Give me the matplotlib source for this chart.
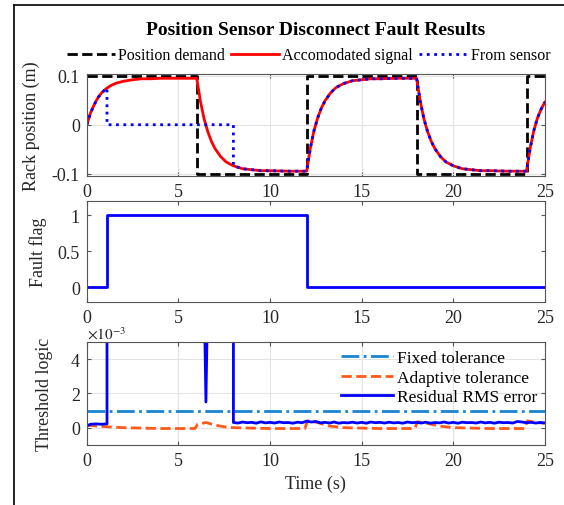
import numpy as np
import matplotlib
matplotlib.use("Agg")
import matplotlib.pyplot as plt
from matplotlib.lines import Line2D

plt.rcParams['font.family'] = ['Liberation Serif', 'DejaVu Serif']
plt.rcParams['mathtext.fontset'] = 'stix'

# --- data ---
# position demand (square wave)
demand_t = [0, 6, 6, 12, 12, 18, 18, 24, 24, 25]
demand_y = [0.1, 0.1, -0.1, -0.1, 0.1, 0.1, -0.1, -0.1, 0.1, 0.1]

# accomodated signal (red)
acc_t = [0, 0.2, 0.4, 0.6, 0.8, 1.0, 1.1, 1.3, 1.6, 2.0, 2.5, 3.0, 3.5, 4.0, 5.0, 6.0,
         6.2, 6.4, 6.6, 6.8, 7.0, 7.3, 7.6, 8.0, 8.5, 9.0, 9.5, 10.0, 11.0, 12.0,
         12.2, 12.4, 12.6, 12.8, 13.0, 13.3, 13.6, 14.0, 14.5, 15.0, 15.5, 16.0, 17.0, 18.0,
         18.2, 18.4, 18.6, 18.8, 19.0, 19.3, 19.6, 20.0, 20.5, 21.0, 21.5, 22.0, 23.0, 24.0,
         24.2, 24.4, 24.6, 24.8, 25.0]
acc_y = [0, 0.024, 0.041, 0.055, 0.065, 0.072, 0.075, 0.080, 0.085, 0.089, 0.092, 0.094, 0.094, 0.095, 0.095, 0.095,
         0.048, 0.012, -0.014, -0.034, -0.049, -0.065, -0.076, -0.084, -0.090, -0.092, -0.094, -0.094, -0.095, -0.095,
         -0.048, -0.012, 0.014, 0.034, 0.049, 0.065, 0.076, 0.084, 0.090, 0.092, 0.094, 0.094, 0.095, 0.095,
         0.048, 0.012, -0.014, -0.034, -0.049, -0.065, -0.076, -0.084, -0.090, -0.092, -0.094, -0.094, -0.095, -0.095,
         -0.048, -0.012, 0.014, 0.032, 0.046]

# from sensor (blue dotted): drops to 0 at 1.1 s, reconnects at 8 s
sens_t = [0, 0.2, 0.4, 0.6, 0.8, 1.0, 1.1, 1.1, 8.0,
          8.0, 8.5, 9.0, 9.5, 10.0, 11.0, 12.0,
          12.2, 12.4, 12.6, 12.8, 13.0, 13.3, 13.6, 14.0, 14.5, 15.0, 15.5, 16.0, 17.0, 18.0,
          18.2, 18.4, 18.6, 18.8, 19.0, 19.3, 19.6, 20.0, 20.5, 21.0, 21.5, 22.0, 23.0, 24.0,
          24.2, 24.4, 24.6, 24.8, 25.0]
sens_y = [0, 0.024, 0.041, 0.055, 0.065, 0.072, 0.075, 0, 0,
          -0.084, -0.090, -0.092, -0.094, -0.094, -0.095, -0.095,
          -0.048, -0.012, 0.014, 0.034, 0.049, 0.065, 0.076, 0.084, 0.090, 0.092, 0.094, 0.094, 0.095, 0.095,
          0.048, 0.012, -0.014, -0.034, -0.049, -0.065, -0.076, -0.084, -0.090, -0.092, -0.094, -0.094, -0.095, -0.095,
          -0.048, -0.012, 0.014, 0.032, 0.046]

# fault flag
flag_t = [0, 1.1, 1.1, 12, 12, 25]
flag_y = [0, 0, 1, 1, 0, 0]

# threshold logic (x1e-3)
fixed_t = [0, 25]
fixed_y = [1.0, 1.0]

adapt_t = [0, 0.5, 1.1, 2, 4, 5.9, 6.05, 6.5, 7.0, 7.5, 8, 10, 11.9, 12.05, 12.6, 13.2, 14, 16,
           17.9, 18.05, 18.6, 19.2, 20, 22, 23.9, 24.05, 24.6, 25]
adapt_y = [0.15, 0.1, 0.05, 0.0, -0.05, -0.05, 0.2, 0.3, 0.15, 0.05, 0.0, -0.05, -0.05, 0.4, 0.3, 0.1, 0.0, -0.05,
           -0.05, 0.35, 0.25, 0.1, 0.0, -0.05, -0.05, 0.4, 0.3, 0.25]

res_t = [0, 0.2, 0.5, 0.8, 1.1, 1.1, 6.4, 6.5, 6.6, 8.0, 8.0,
         8.25, 8.5, 8.75, 9.0, 9.25, 9.5, 9.75, 10.0, 10.25, 10.5, 10.75, 11.0, 11.25, 11.5, 11.75, 12.0,
         12.25, 12.5, 12.75, 13.0, 13.25, 13.5, 13.75, 14.0, 14.25, 14.5, 14.75, 15.0, 15.25, 15.5, 15.75, 16.0,
         16.25, 16.5, 16.75, 17.0, 17.25, 17.5, 17.75, 18.0, 18.25, 18.5, 18.75, 19.0, 19.25, 19.5, 19.75, 20.0,
         20.25, 20.5, 20.75, 21.0, 21.25, 21.5, 21.75, 22.0, 22.25, 22.5, 22.75, 23.0, 23.25, 23.5, 23.75, 24.0,
         24.25, 24.5, 24.75, 25.0]
res_y = [0.1, 0.2, 0.22, 0.2, 0.22, 8.0, 8.0, 1.5, 8.0, 8.0, 0.3,
         0.27, 0.33, 0.29, 0.31, 0.26, 0.34, 0.28, 0.31, 0.27, 0.33, 0.29, 0.30, 0.26, 0.32, 0.29, 0.38,
         0.33, 0.36, 0.28, 0.31, 0.27, 0.33, 0.26, 0.30, 0.28, 0.32, 0.27, 0.31, 0.26, 0.33, 0.29, 0.31,
         0.27, 0.32, 0.28, 0.30, 0.26, 0.33, 0.29, 0.31, 0.27, 0.32, 0.26, 0.30, 0.28, 0.33, 0.27, 0.31,
         0.26, 0.32, 0.29, 0.30, 0.27, 0.33, 0.28, 0.31, 0.26, 0.32, 0.29, 0.30, 0.27, 0.36, 0.33, 0.29,
         0.31, 0.27, 0.30, 0.28]

xticks = [0, 5, 10, 15, 20, 25]

fig = plt.figure(figsize=(5.64, 5.06), dpi=100)

ax1 = fig.add_axes([0.154, 0.651, 0.812, 0.201])
ax2 = fig.add_axes([0.154, 0.402, 0.812, 0.199])
ax3 = fig.add_axes([0.154, 0.119, 0.812, 0.203])

for ax in (ax1, ax2, ax3):
    ax.set_xlim(0, 25)
    ax.set_xticks(xticks)
    ax.tick_params(direction='in', top=True, right=True, length=3, width=0.8,
                   colors='#555555', labelcolor='#262626', labelsize=13, pad=5)
    for s in ax.spines.values():
        s.set_color('#555555')
        s.set_linewidth(0.8)

# --- 1. rack position ---
ax1.plot(demand_t, demand_y, color='black', ls='--', lw=2, label='Position demand')
ax1.plot(acc_t, acc_y, color='red', lw=2, label='Accomodated signal')
ax1.plot(sens_t, sens_y, color='blue', ls=':', lw=2, label='From sensor')
ax1.set_ylim(-0.104, 0.104)
ax1.set_yticks([-0.1, 0, 0.1])
ax1.set_yticklabels(['-0.1', '0', '0.1'])
ax1.grid(True, color='#e3e3e3', lw=0.8)
ax1.set_axisbelow(True)
ax1.set_ylabel('Rack position (m)', fontsize=13, color='#262626')
ax1.yaxis.set_label_coords(-0.103, 0.5)

fig.text(0.56, 0.94, 'Position Sensor Disconnect Fault Results', ha='center', va='center',
         fontsize=14, fontweight='bold')
h1, l1 = ax1.get_legend_handles_labels()
fig.legend(h1, l1, loc='center', bbox_to_anchor=(0.547, 0.889), ncol=3, frameon=False,
           fontsize=11.5, handlelength=3, handletextpad=0.2, columnspacing=0.4)

# --- 2. fault flag ---
ax2.plot(flag_t, flag_y, color='blue', lw=2)
ax2.set_ylim(-0.2, 1.2)
ax2.set_yticks([0, 0.5, 1])
ax2.set_yticklabels(['0', '0.5', '1'])
ax2.set_ylabel('Fault flag', fontsize=13, color='#262626')
ax2.yaxis.set_label_coords(-0.088, 0.5)

# --- 3. threshold logic ---
ax3.plot(fixed_t, fixed_y, color='#1a84d2', ls='-.', lw=2, label='Fixed tolerance')
ax3.plot(adapt_t, adapt_y, color='#ff5a1a', ls='--', lw=2, label='Adaptive tolerance')
ax3.plot(res_t, res_y, color='blue', lw=2, label='Residual RMS error')
ax3.set_ylim(-1, 5)
ax3.set_yticks([0, 2, 4])
ax3.grid(True, color='#e3e3e3', lw=0.8)
ax3.set_axisbelow(True)
ax3.set_ylabel('Threshold logic', fontsize=13, color='#262626')
ax3.yaxis.set_label_coords(-0.075, 0.5)
ax3.set_xlabel('Time (s)', fontsize=13, color='#262626')
ax3.text(0.0, 1.0, r'$\times10^{-3}$', transform=ax3.transAxes, fontsize=11,
         color='#262626', va='bottom', ha='left')
ax3.legend(loc='upper right', frameon=False, fontsize=12.5, handlelength=3.0,
           handletextpad=0.2, labelspacing=0.2, borderaxespad=0.05)

# figure frame (left and top edges)
fig.add_artist(Line2D([0.025, 0.025], [0, 0.988], color='black', lw=1.2, transform=fig.transFigure))
fig.add_artist(Line2D([0.025, 1.0], [0.988, 0.988], color='black', lw=1.2, transform=fig.transFigure))

fig.savefig('out.png', dpi=100)
